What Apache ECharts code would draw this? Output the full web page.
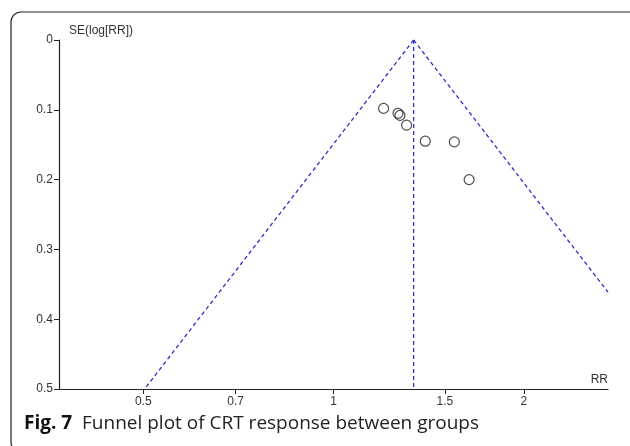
<!DOCTYPE html>
<html>
<head>
<meta charset="utf-8">
<script src="https://cdn.jsdelivr.net/npm/echarts@6/dist/echarts.min.js"></script>
<style>
  html, body { margin: 0; padding: 0; background: #fff; }
  #chart { width: 630px; height: 446px; }
</style>
</head>
<body>
<div id="chart"></div>
<script>
// study estimates
let studyRR = [1.2, 1.265, 1.274, 1.305, 1.397, 1.553, 1.639];
let studySE = [0.098, 0.105, 0.108, 0.122, 0.145, 0.146, 0.2];
let pooledRR = 1.339;
let xTicks = [0.5, 0.7, 1, 1.5, 2];
let seMax = 0.5;

let myChart = echarts.init(document.getElementById("chart"));

let lp = Math.log(pooledRR);
let lnMin = -1, lnMax = 1;
let points = studyRR.map((rr, i) => [Math.log(rr), studySE[i]]);
// 95% pseudo-confidence limits, clipped to the axis range
let leftLine = [[lp, 0], [lp - 1.96 * seMax, seMax]];
let rightLine = [[lp, 0], [lnMax, (lnMax - lp) / 1.96]];
let midLine = [[lp, 0], [lp, seMax]];

let dashStyle = {
  color: "#2f2fc8",
  width: 1.3,
  type: [4, 3]
};
let axisText = {
  color: "#333",
  fontSize: 12,
  fontFamily: "Liberation Sans, Arial, sans-serif"
};

myChart.setOption({
  animation: false,
  grid: {
    left: 59,
    right: 22,
    top: 40,
    bottom: 57
  },
  graphic: [
    {
      type: "rect",
      shape: { x: 11, y: 12, width: 630, height: 440, r: 10 },
      style: { fill: null, stroke: "#222", lineWidth: 1.2 },
      silent: true
    },
    {
      type: "text",
      left: 24,
      top: 414,
      style: {
        text: "{b|Fig. 7}  Funnel plot of CRT response between groups",
        rich: {
          b: { fontWeight: "bold", fontSize: 19, fontFamily: "Open Sans", fill: "#111" }
        },
        fontSize: 19,
        fontFamily: "Open Sans",
        fill: "#222"
      }
    }
  ],
  xAxis: {
    type: "value",
    min: lnMin,
    max: lnMax,
    name: "RR",
    nameLocation: "end",
    nameGap: 0,
    nameTextStyle: Object.assign({}, axisText, {
      align: "right",
      verticalAlign: "bottom",
      padding: [0, 0, 3, 0]
    }),
    axisLine: { show: true, onZero: false, lineStyle: { color: "#222", width: 1.2 } },
    axisTick: {
      show: true,
      length: 5,
      customValues: xTicks.map(Math.log),
      lineStyle: { color: "#222" }
    },
    axisLabel: Object.assign({}, axisText, {
      margin: 7,
      customValues: xTicks.map(Math.log),
      formatter: function (v) {
        return String(+Math.exp(v).toFixed(1));
      }
    }),
    splitLine: { show: false }
  },
  yAxis: {
    type: "value",
    inverse: true,
    min: 0,
    max: seMax,
    interval: 0.1,
    name: "SE(log[RR])",
    nameLocation: "start",
    nameGap: 3,
    nameTextStyle: Object.assign({}, axisText, {
      align: "left",
      padding: [0, 0, 0, 10]
    }),
    axisLine: { show: true, onZero: false, lineStyle: { color: "#222", width: 1.2 } },
    axisTick: { show: true, length: 5, lineStyle: { color: "#222" } },
    axisLabel: Object.assign({}, axisText, { margin: 6 }),
    splitLine: { show: false }
  },
  series: [
    {
      type: "line",
      data: leftLine,
      symbol: "none",
      lineStyle: dashStyle,
      silent: true
    },
    {
      type: "line",
      data: rightLine,
      symbol: "none",
      lineStyle: dashStyle,
      silent: true
    },
    {
      type: "line",
      data: midLine,
      symbol: "none",
      lineStyle: dashStyle,
      silent: true
    },
    {
      type: "scatter",
      data: points,
      symbol: "circle",
      symbolSize: 10,
      itemStyle: {
        color: "transparent",
        borderColor: "#222",
        borderWidth: 1.2
      }
    }
  ]
});
</script>
</body>
</html>
